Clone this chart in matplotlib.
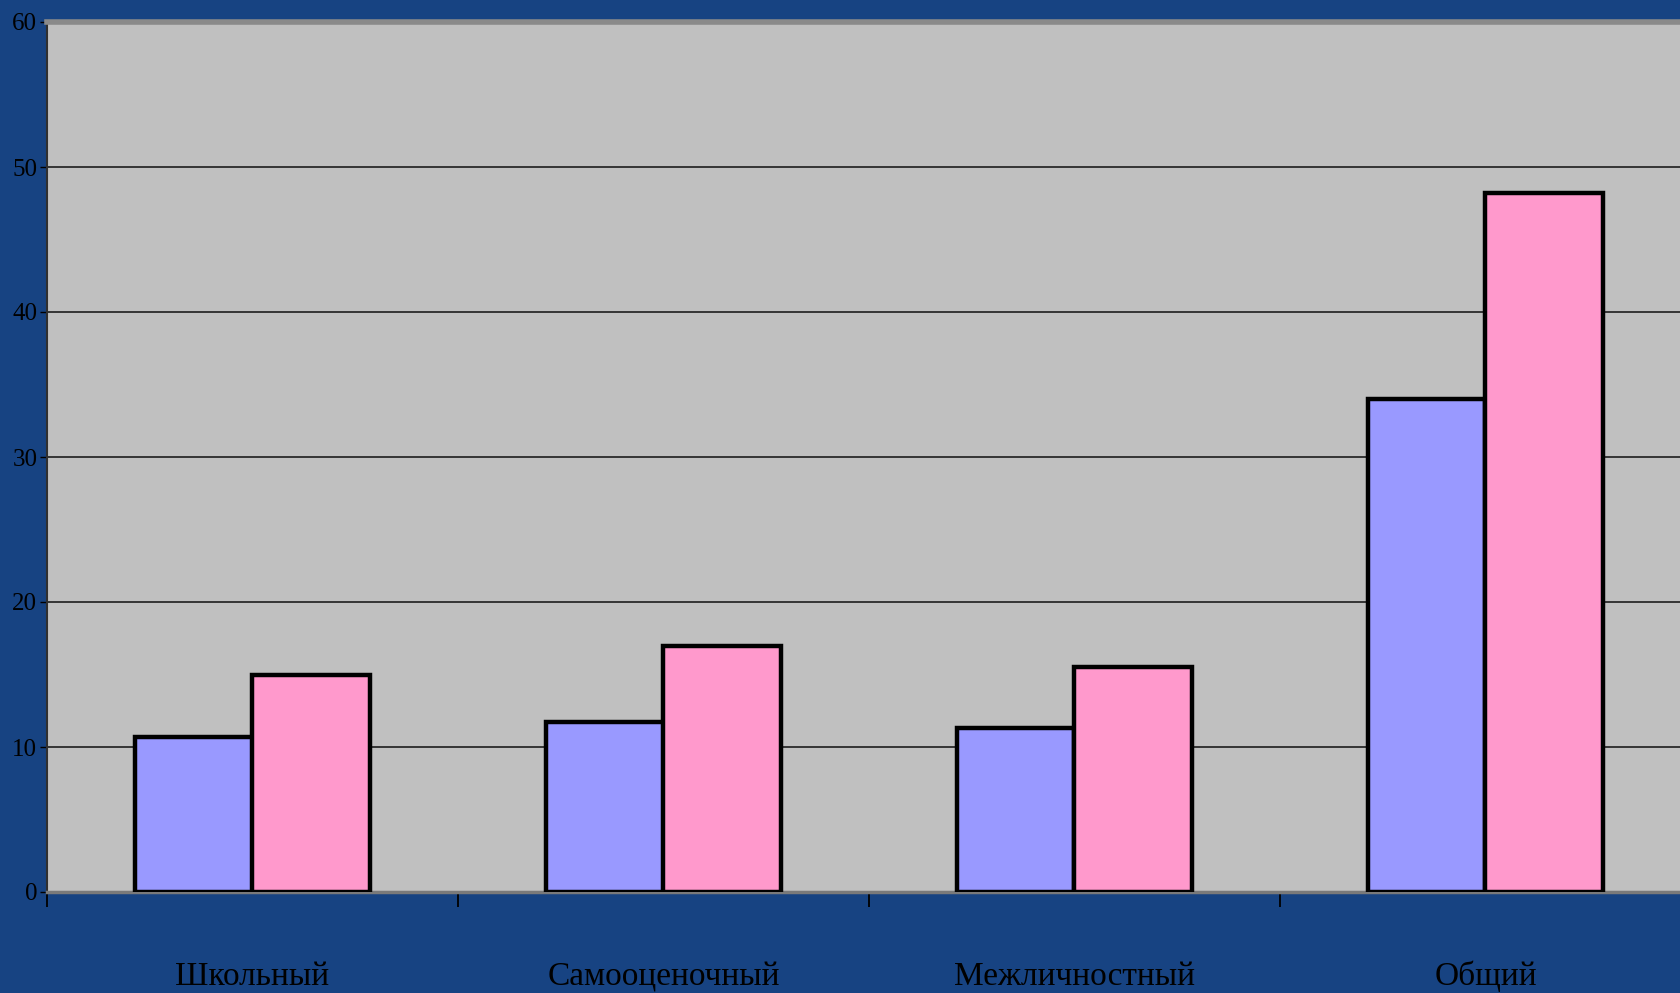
import numpy as np
import matplotlib
matplotlib.use("Agg")
import matplotlib.pyplot as plt

# ===============================
# DATA
# ===============================
categories = ["Школьный", "Самооценочный", "Межличностный", "Общий"]
series_blue = [10.7, 11.75, 11.3, 34.0]
series_pink = [15.0, 17.0, 15.5, 48.2]
y_ticks = [0, 10, 20, 30, 40, 50, 60]

# ===============================
# STYLE
# ===============================
BG = "#174382"
WALL = "#c0c0c0"
BLUE = "#9999ff"
PINK = "#ff99cc"
plt.rcParams["font.family"] = ["Liberation Serif", "DejaVu Serif"]

W, H = 1681, 993
fig = plt.figure(figsize=(W / 100, H / 100), dpi=100)
fig.patch.set_facecolor(BG)

# axes: left edge at 47px, zero line at 892px, top (60) at 22px, runs past right edge
left, right, top, bottom = 47, 1691, 22, 892
ax = fig.add_axes([left / W, 1 - bottom / H, (right - left) / W, (bottom - top) / H])
ax.set_facecolor(WALL)

x = np.arange(len(categories))
bw = 0.285
ax.bar(x - bw / 2, series_blue, width=bw, color=BLUE, edgecolor="black", linewidth=3.2, zorder=3)
ax.bar(x + bw / 2, series_pink, width=bw, color=PINK, edgecolor="black", linewidth=3.2, zorder=3)

ax.set_xlim(-0.5, len(categories) - 0.5)
ax.set_ylim(0, 60)

# gridlines
ax.set_yticks(y_ticks)
ax.set_yticklabels([str(t) for t in y_ticks], fontsize=18, color="black")
ax.yaxis.grid(True, color="#2a2a2a", linewidth=1.3, zorder=1)
ax.set_axisbelow(True)
ax.tick_params(axis="y", direction="out", length=5, width=1, color="black", pad=2)

# category boundaries as x ticks, labels drawn separately
ax.set_xticks(np.arange(len(categories)) - 0.5)
ax.set_xticklabels([])
ax.tick_params(axis="x", direction="out", length=11, width=1.3, color="black")

for i, cat in enumerate(categories):
    ax.annotate(cat, xy=(i, 8), xycoords=("data", "figure pixels"),
                ha="center", va="baseline", fontsize=24, color="black",
                annotation_clip=False)

# spines
ax.spines["top"].set_color("#8a8a8a")
ax.spines["top"].set_linewidth(4)
ax.spines["left"].set_color("#303030")
ax.spines["left"].set_linewidth(1.5)
ax.spines["bottom"].set_color("#7a7a7a")
ax.spines["bottom"].set_linewidth(2.5)
ax.spines["right"].set_visible(False)

fig.savefig("out.png", dpi=100, facecolor=fig.get_facecolor())
